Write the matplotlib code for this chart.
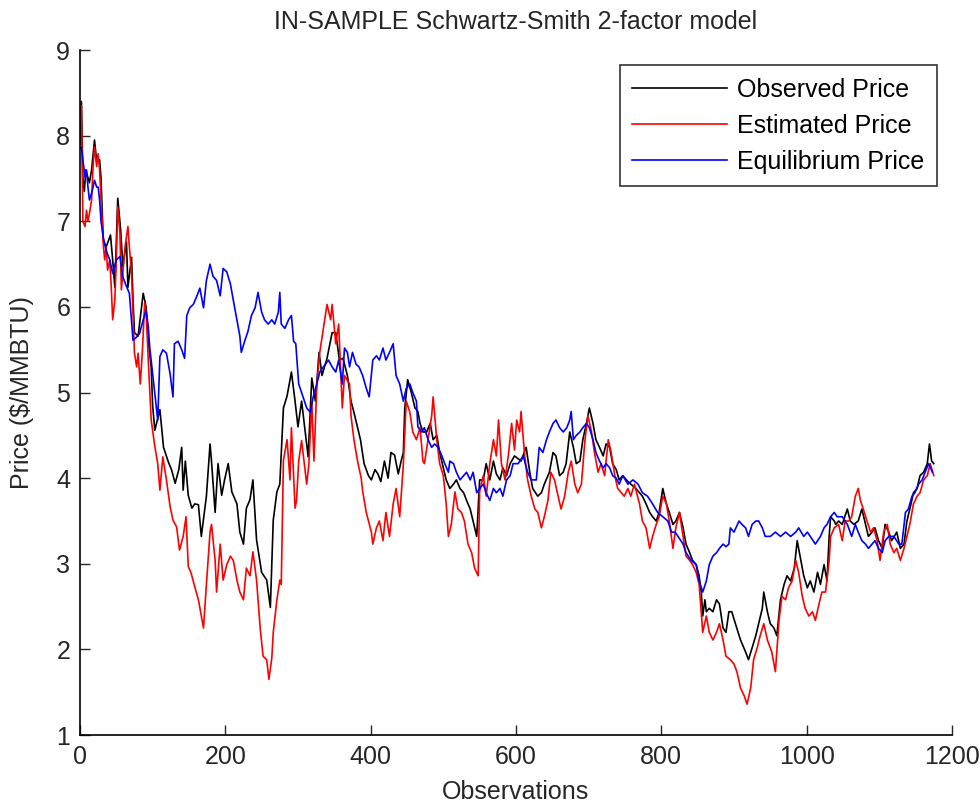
import matplotlib
matplotlib.use('Agg')
import matplotlib.pyplot as plt

# observed price
obs_observed = [0, 2, 4, 6, 8, 13, 16, 20, 23, 27, 29, 32, 36, 42, 45, 48, 52, 56, 59, 64,
                66, 71, 73, 75, 80, 87, 91, 94, 98, 100, 103, 110, 115, 122, 126, 131, 136, 140, 142, 145,
                149, 154, 158, 163, 167, 174, 179, 181, 186, 190, 195, 199, 204, 209, 216, 220, 225, 229, 234, 238,
                243, 250, 257, 262, 266, 271, 275, 280, 285, 291, 296, 300, 305, 310, 314, 319, 324, 329, 333, 340,
                347, 352, 357, 362, 368, 373, 377, 382, 386, 391, 397, 401, 406, 410, 414, 419, 424, 428, 433, 438,
                442, 445, 447, 451, 456, 461, 465, 468, 472, 477, 482, 486, 491, 495, 500, 504, 509, 514, 518, 523,
                528, 532, 537, 541, 546, 550, 555, 559, 564, 569, 573, 578, 582, 587, 592, 598, 607, 614, 619, 623,
                630, 635, 639, 646, 651, 655, 660, 665, 669, 674, 679, 683, 688, 692, 697, 701, 706, 710, 715, 720,
                724, 729, 733, 738, 742, 747, 752, 758, 765, 770, 774, 779, 784, 788, 793, 797, 802, 807, 811, 816,
                820, 825, 830, 834, 839, 843, 848, 852, 855, 857, 860, 862, 866, 871, 876, 880, 885, 889, 893, 897,
                902, 909, 916, 920, 925, 930, 934, 939, 941, 946, 950, 955, 959, 964, 969, 973, 978, 983, 987, 992,
                996, 1001, 1005, 1010, 1015, 1019, 1024, 1028, 1031, 1033, 1038, 1040, 1044, 1049, 1056, 1060, 1065, 1071, 1076, 1081,
                1085, 1090, 1094, 1099, 1104, 1108, 1113, 1117, 1124, 1129, 1134, 1138, 1142, 1147, 1152, 1156, 1161, 1166, 1169, 1172,
                1175]
observed = [7.9, 8.4, 7.5, 7.35, 7.6, 7.45, 7.6, 7.95, 7.7, 7.72, 7.5, 6.78, 6.7, 6.84, 6.55, 6.23, 7.27, 6.9, 6.47, 6.76,
            6.23, 6.58, 6.08, 5.7, 5.66, 6.16, 6.0, 5.6, 5.3, 4.85, 4.56, 4.8, 4.36, 4.18, 4.1, 3.94, 4.1, 4.36, 3.86, 4.2,
            3.8, 3.65, 3.7, 3.69, 3.32, 3.79, 4.4, 4.2, 3.6, 4.17, 3.8, 3.98, 4.17, 3.84, 3.7, 3.37, 3.23, 3.65, 3.75, 3.98,
            3.28, 2.9, 2.81, 2.49, 3.51, 3.84, 3.93, 4.82, 4.96, 5.24, 4.9, 4.6, 4.9, 4.54, 4.25, 5.17, 4.9, 5.47, 5.2, 5.4,
            5.7, 5.7, 5.38, 5.4, 5.2, 4.9, 4.77, 4.59, 4.45, 4.17, 4.03, 3.98, 4.1, 4.05, 3.96, 4.2, 4.0, 4.3, 4.27, 4.05,
            4.2, 4.3, 4.82, 5.15, 5.0, 4.82, 4.78, 4.64, 4.54, 4.54, 4.64, 4.45, 4.5, 4.3, 4.12, 3.98, 3.88, 3.93, 3.98, 3.88,
            3.83, 3.74, 3.64, 3.5, 3.32, 3.98, 3.98, 4.17, 3.98, 4.2, 4.05, 3.98, 4.12, 4.03, 4.17, 4.26, 4.2, 4.36, 4.07, 3.88,
            3.79, 3.83, 3.93, 4.07, 4.3, 4.26, 4.03, 4.07, 4.17, 4.54, 4.36, 4.17, 4.2, 4.45, 4.64, 4.82, 4.64, 4.45, 4.36, 4.26,
            4.4, 4.36, 4.17, 4.1, 3.98, 4.03, 3.98, 3.93, 3.88, 3.83, 3.79, 3.7, 3.6, 3.55, 3.5, 3.6, 3.88, 3.7, 3.6, 3.46,
            3.5, 3.6, 3.42, 3.23, 3.13, 3.04, 2.99, 2.86, 2.67, 2.39, 2.58, 2.44, 2.48, 2.44, 2.58, 2.53, 2.25, 2.2, 2.44, 2.44,
            2.3, 2.11, 1.97, 1.88, 2.02, 2.16, 2.3, 2.48, 2.67, 2.44, 2.3, 2.25, 2.16, 2.58, 2.76, 2.86, 2.8, 2.95, 3.27, 3.04,
            2.86, 2.72, 2.8, 2.67, 2.9, 2.76, 2.99, 2.8, 3.32, 3.55, 3.5, 3.46, 3.5, 3.46, 3.64, 3.5, 3.46, 3.5, 3.64, 3.46,
            3.32, 3.37, 3.42, 3.27, 3.18, 3.46, 3.37, 3.27, 3.37, 3.18, 3.23, 3.5, 3.64, 3.83, 3.88, 4.03, 4.07, 4.17, 4.4, 4.2,
            4.17]

# estimated price
obs_estimated = [0, 2, 4, 7, 9, 11, 13, 16, 18, 20, 23, 25, 27, 29, 32, 34, 36, 38, 41, 43,
                 45, 48, 50, 52, 55, 57, 62, 66, 68, 71, 73, 75, 78, 80, 83, 86, 89, 91, 94, 98,
                 103, 107, 110, 114, 119, 124, 128, 133, 137, 142, 146, 149, 153, 158, 163, 167, 170, 174, 179, 181,
                 186, 188, 193, 197, 202, 207, 211, 216, 220, 225, 229, 234, 238, 243, 248, 252, 257, 260, 264, 266,
                 271, 275, 277, 280, 285, 289, 291, 296, 298, 301, 305, 312, 315, 319, 322, 326, 330, 335, 340, 345,
                 347, 352, 356, 361, 364, 366, 371, 373, 377, 382, 387, 389, 394, 401, 403, 408, 412, 417, 421, 426,
                 431, 435, 440, 445, 449, 454, 458, 463, 468, 472, 474, 479, 484, 486, 491, 495, 500, 504, 507, 511,
                 516, 520, 525, 529, 534, 539, 543, 548, 550, 555, 559, 564, 569, 573, 576, 580, 585, 590, 594, 598,
                 601, 605, 607, 612, 616, 621, 626, 630, 635, 639, 644, 648, 653, 658, 662, 667, 672, 676, 681, 685,
                 690, 695, 699, 704, 708, 713, 717, 722, 727, 731, 736, 740, 745, 749, 754, 758, 763, 770, 774, 779,
                 784, 788, 793, 797, 802, 807, 811, 816, 820, 825, 830, 834, 839, 843, 848, 852, 857, 862, 866, 871,
                 876, 880, 885, 889, 895, 900, 904, 909, 914, 918, 923, 927, 932, 936, 941, 946, 952, 957, 962, 966,
                 971, 975, 980, 985, 989, 994, 998, 1003, 1008, 1012, 1017, 1021, 1026, 1031, 1033, 1038, 1044, 1049, 1053, 1058,
                 1062, 1067, 1071, 1074, 1078, 1083, 1088, 1092, 1097, 1101, 1106, 1111, 1115, 1120, 1124, 1129, 1134, 1138, 1142, 1147,
                 1152, 1156, 1161, 1166, 1170, 1175]
estimated = [8.2, 8.35, 7.0, 6.94, 7.13, 7.0, 7.09, 7.25, 7.64, 7.87, 7.64, 7.79, 7.6, 7.25, 6.74, 6.55, 6.7, 6.43, 6.55, 6.24,
             5.85, 6.08, 6.55, 7.17, 6.86, 6.2, 6.7, 6.94, 6.7, 6.39, 5.92, 5.46, 5.3, 5.46, 5.1, 5.5, 6.05, 5.95, 5.38, 4.68,
             4.37, 4.17, 3.86, 4.25, 3.98, 3.67, 3.51, 3.43, 3.16, 3.32, 3.55, 2.97, 2.89, 2.73, 2.58, 2.39, 2.25, 2.76, 3.37, 3.46,
             3.04, 2.67, 3.23, 2.81, 2.99, 3.09, 3.04, 2.81, 2.67, 2.58, 2.95, 2.86, 3.14, 2.81, 2.25, 1.92, 1.88, 1.65, 1.9, 2.2,
             2.58, 2.81, 2.76, 4.21, 4.45, 3.98, 4.59, 3.65, 3.74, 4.2, 4.44, 3.93, 4.16, 4.9, 4.2, 5.1, 5.47, 5.75, 6.03, 5.85,
             6.03, 5.57, 5.8, 4.82, 5.2, 5.17, 5.1, 4.73, 4.45, 4.2, 4.0, 3.85, 3.6, 3.37, 3.23, 3.42, 3.5, 3.27, 3.6, 3.32,
             3.7, 3.88, 3.55, 4.16, 4.9, 4.77, 4.54, 4.45, 4.59, 4.2, 4.17, 4.45, 4.73, 4.95, 4.45, 4.17, 4.03, 3.7, 3.32, 3.46,
             3.84, 3.64, 3.6, 3.5, 3.23, 3.13, 2.95, 2.86, 3.84, 4.03, 3.79, 4.17, 4.45, 4.26, 4.68, 4.17, 3.98, 4.3, 4.64, 4.33,
             4.68, 4.54, 4.78, 4.26, 3.98, 3.79, 3.64, 3.6, 3.42, 3.55, 3.74, 4.07, 3.98, 3.79, 3.64, 3.79, 4.07, 4.2, 3.93, 3.83,
             3.93, 4.45, 4.73, 4.54, 4.3, 4.07, 4.17, 4.03, 4.45, 4.3, 4.03, 3.88, 3.83, 3.79, 3.88, 3.79, 3.93, 3.7, 3.5, 3.42,
             3.18, 3.32, 3.46, 3.55, 3.79, 3.7, 3.5, 3.18, 3.42, 3.6, 3.32, 3.09, 3.04, 2.99, 2.9, 2.76, 2.2, 2.39, 2.2, 2.11,
             2.2, 2.3, 2.11, 1.92, 1.88, 1.83, 1.74, 1.55, 1.46, 1.36, 1.55, 1.88, 2.02, 2.16, 2.3, 2.11, 1.97, 1.74, 2.34, 2.62,
             2.58, 2.72, 2.8, 3.04, 2.9, 2.62, 2.48, 2.39, 2.44, 2.34, 2.53, 2.67, 2.67, 3.04, 3.32, 3.42, 3.46, 3.27, 3.5, 3.5,
             3.55, 3.79, 3.88, 3.74, 3.64, 3.5, 3.37, 3.42, 3.27, 3.04, 3.37, 3.46, 3.23, 3.13, 3.18, 3.04, 3.18, 3.32, 3.46, 3.7,
             3.79, 3.83, 3.98, 4.03, 4.17, 4.03]

# equilibrium price
obs_equilibrium = [0, 2, 4, 7, 9, 11, 13, 16, 18, 20, 23, 25, 27, 29, 32, 36, 41, 45, 50, 55,
                   59, 64, 68, 73, 78, 82, 87, 91, 94, 96, 98, 100, 105, 107, 110, 114, 119, 124, 128, 130,
                   135, 140, 144, 147, 151, 156, 161, 165, 170, 174, 179, 183, 188, 193, 197, 202, 207, 211, 216, 220,
                   222, 227, 231, 236, 241, 245, 250, 254, 259, 264, 268, 273, 275, 277, 282, 287, 291, 294, 297, 301,
                   305, 312, 317, 321, 326, 330, 335, 342, 347, 352, 356, 361, 364, 368, 371, 375, 380, 384, 389, 394,
                   398, 403, 408, 412, 417, 421, 426, 431, 435, 440, 445, 449, 454, 458, 463, 465, 470, 474, 479, 484,
                   488, 493, 498, 502, 507, 509, 514, 518, 523, 528, 532, 537, 541, 546, 550, 555, 559, 564, 569, 573,
                   578, 582, 587, 592, 596, 603, 610, 616, 621, 628, 632, 637, 642, 646, 651, 655, 660, 665, 670, 674,
                   676, 679, 683, 688, 692, 697, 701, 706, 710, 715, 720, 724, 729, 733, 738, 742, 747, 754, 761, 768,
                   774, 781, 788, 795, 802, 809, 814, 819, 823, 830, 834, 841, 848, 852, 857, 862, 866, 871, 876, 880,
                   885, 889, 893, 895, 900, 907, 911, 916, 920, 925, 930, 934, 939, 943, 950, 957, 964, 971, 978, 985,
                   989, 996, 1001, 1005, 1012, 1019, 1024, 1028, 1033, 1038, 1042, 1049, 1056, 1062, 1067, 1071, 1076, 1081, 1085, 1090,
                   1094, 1099, 1104, 1108, 1113, 1120, 1127, 1131, 1136, 1140, 1145, 1149, 1154, 1159, 1163, 1168, 1173]
equilibrium = [7.85, 7.87, 7.72, 7.52, 7.6, 7.4, 7.25, 7.33, 7.4, 7.48, 7.4, 7.4, 7.25, 7.0, 6.82, 6.66, 6.55, 6.39, 6.55, 6.59,
               6.35, 6.24, 6.16, 5.61, 5.65, 5.69, 5.85, 5.96, 5.77, 5.53, 5.38, 5.22, 4.83, 4.68, 5.42, 5.5, 5.46, 5.22, 4.95, 5.57,
               5.6, 5.5, 5.4, 5.9, 5.99, 6.03, 6.13, 6.22, 5.99, 6.31, 6.5, 6.36, 6.31, 6.13, 6.45, 6.41, 6.27, 6.08, 5.85, 5.66,
               5.47, 5.61, 5.71, 5.9, 5.99, 6.17, 5.94, 5.85, 5.8, 5.85, 5.8, 5.94, 6.17, 5.8, 5.75, 5.85, 5.9, 5.6, 5.57, 5.1,
               5.0, 4.82, 4.77, 4.95, 5.1, 5.24, 5.3, 5.38, 5.3, 5.24, 5.38, 5.1, 5.52, 5.47, 5.3, 5.47, 5.33, 5.3, 5.2, 5.05,
               4.95, 5.38, 5.43, 5.38, 5.52, 5.38, 5.47, 5.57, 5.2, 5.1, 4.9, 5.05, 5.1, 5.0, 4.9, 4.6, 4.54, 4.59, 4.45, 4.36,
               4.4, 4.36, 4.26, 4.17, 4.07, 4.2, 4.17, 4.07, 3.98, 4.03, 4.07, 3.98, 4.07, 3.83, 3.88, 3.93, 3.83, 3.74, 3.88, 3.83,
               3.88, 3.79, 3.98, 4.03, 4.17, 4.17, 4.26, 4.07, 3.98, 3.98, 4.36, 4.3, 4.45, 4.54, 4.64, 4.68, 4.59, 4.54, 4.59, 4.68,
               4.78, 4.45, 4.5, 4.54, 4.59, 4.64, 4.59, 4.45, 4.3, 4.2, 4.12, 4.17, 4.12, 4.03, 4.0, 3.93, 4.03, 3.93, 3.98, 3.93,
               3.83, 3.79, 3.7, 3.6, 3.55, 3.5, 3.37, 3.37, 3.32, 3.23, 3.13, 3.04, 2.99, 2.8, 2.67, 2.8, 2.99, 3.09, 3.13, 3.18,
               3.23, 3.2, 3.23, 3.42, 3.37, 3.5, 3.46, 3.42, 3.32, 3.46, 3.5, 3.5, 3.42, 3.32, 3.32, 3.37, 3.32, 3.37, 3.32, 3.37,
               3.42, 3.32, 3.37, 3.32, 3.23, 3.32, 3.42, 3.46, 3.55, 3.6, 3.55, 3.55, 3.46, 3.32, 3.46, 3.37, 3.27, 3.23, 3.18, 3.23,
               3.27, 3.18, 3.13, 3.27, 3.32, 3.32, 3.23, 3.23, 3.6, 3.64, 3.79, 3.83, 3.93, 3.98, 4.07, 4.17, 4.07]

plt.rcParams['font.family'] = ['Liberation Sans', 'DejaVu Sans']
text_color = '#262626'

fig = plt.figure(figsize=(9.8, 8.02), dpi=100)
ax = fig.add_axes([0.0816, 0.0835, 0.8898, 0.854])

# plot
ax.plot(obs_observed, observed, '-', color='black', linewidth=1.2, label='Observed Price')
ax.plot(obs_estimated, estimated, '-', color='red', linewidth=1.2, label='Estimated Price')
ax.plot(obs_equilibrium, equilibrium, '-', color='blue', linewidth=1.2, label='Equilibrium Price')

ax.set_xlim(0, 1200)
ax.set_ylim(1, 9)
ax.set_xticks([0, 200, 400, 600, 800, 1000, 1200])
ax.set_yticks([1, 2, 3, 4, 5, 6, 7, 8, 9])

# matlab-like axes: box off, ticks pointing in
ax.spines['top'].set_visible(False)
ax.spines['right'].set_visible(False)
ax.spines['left'].set_linewidth(1.2)
ax.spines['bottom'].set_linewidth(1.2)
ax.tick_params(direction='in', length=7, width=1.0, labelsize=18, pad=7, colors=text_color)

ax.set_title('IN-SAMPLE Schwartz-Smith 2-factor model', fontsize=18, pad=15, color=text_color)
ax.set_xlabel('Observations', fontsize=18, labelpad=8, color=text_color)
ax.set_ylabel('Price (\\$/MMBTU)', fontsize=18, labelpad=16, color=text_color)

leg = ax.legend(loc='upper right', bbox_to_anchor=(0.983, 0.978), borderaxespad=0,
                fontsize=18, frameon=True, fancybox=False, edgecolor='black',
                handlelength=3.8, borderpad=0.5, labelspacing=0.48, handletextpad=0.4)
leg.get_frame().set_linewidth(1.2)

plt.savefig('out.png', dpi=100)
